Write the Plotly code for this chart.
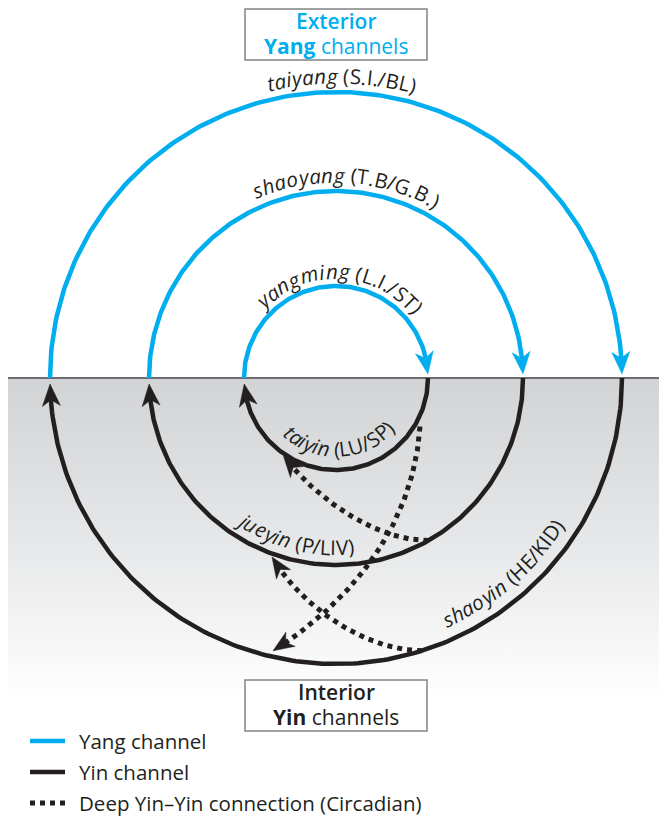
import numpy as np
import plotly.graph_objects as go

W, H = 667, 818
PAGE_MARGIN = 8            # default body margin of the html page
CX, CY = 336, 378          # centre of the ring system, on the exterior/interior horizon

BLUE = "#00aeef"
INK = "#231f20"
RULE = "#6d6e71"
FONT = "Open Sans"
FS = 20.5

# ---- data -------------------------------------------------------------
ring_radii = [286, 187, 92]                       # outer, middle, inner
yang_names = ["taiyang", "shaoyang", "yangming"]
yang_codes = ["(S.I./BL)", "(T.B/G.B.)", "(L.I./ST)"]
yin_names = ["shaoyin", "jueyin", "taiyin"]
yin_codes = ["(HE/KID)", "(P/LIV)", "(LU/SP)"]
yang_label_deg = [271.1, 273, 272.5]
yin_label_deg = [49.5, 104, 87]
yang_label_gap = [8.5, 8.5, 7]
yin_label_gap = [13, 10, 13]

# deep yin-yin connections (ring index, angle in degrees, radial offset)
conn_from_ring = [2, 1, 0]
conn_from_deg = [30, 60.4, 72.5]
conn_from_off = [5, 0, 0]
conn_to_ring = [0, 2, 1]
conn_to_deg = [103, 124, 109.7]
conn_to_off = [-6, 2, 3]
conn_start_handle = [(-6, 95), (-55, 0), (-60, 0)]
conn_end_handle = [(82, -51), (30, 40), (25, 45)]

legend_labels = ["Yang channel", "Yin channel", "Deep Yin\u2013Yin connection (Circadian)"]
legend_colors = [BLUE, INK, INK]
legend_dash = ["solid", "solid", "5px,5px"]

box_lines_top = ["Exterior", "<b>Yang</b> channels"]
box_lines_bottom = ["Interior", "<b>Yin</b> channels"]

# approximate advance widths (em) for label layout
CW = dict(a=.556, b=.613, c=.48, d=.613, e=.561, f=.336, g=.544, h=.613, i=.258, j=.258,
          k=.523, l=.258, m=.93, n=.613, o=.602, p=.613, q=.613, r=.408, s=.477, t=.353,
          u=.613, v=.5, w=.778, x=.519, y=.5, z=.465,
          A=.633, B=.647, C=.631, D=.729, E=.556, G=.728, H=.738, I=.279, K=.614, L=.519,
          P=.602, S=.549, T=.553, U=.728, V=.595)
CW.update({" ": .26, "(": .296, ")": .296, ".": .267, "/": .372})

fig = go.Figure()
annotations = []


def polar(r, deg):
    t = np.radians(deg)
    return CX + r * np.cos(t), CY + r * np.sin(t)


def arrowhead(tip, src, color, L=22, w=18):
    tx, ty = tip
    d = np.array([tx - src[0], ty - src[1]], float)
    d /= np.hypot(*d)
    n = np.array([-d[1], d[0]])
    b = np.array([tx, ty]) - L * d
    pts = [np.array([tx, ty]), b + n * w / 2, np.array([tx, ty]) - 0.72 * L * d, b - n * w / 2,
           np.array([tx, ty])]
    fig.add_trace(go.Scatter(x=[p[0] for p in pts], y=[p[1] for p in pts], mode="lines",
                             fill="toself", fillcolor=color, line=dict(color=color, width=0.5),
                             hoverinfo="skip", showlegend=False))


# interior shading
fig.add_trace(go.Scatter(x=[8, W, W, 8, 8], y=[CY, CY, 700, 700, CY], mode="lines",
                         fill="toself", line=dict(width=0),
                         fillgradient=dict(type="vertical",
                                           colorscale=[[0, "#ffffff"], [0.45, "#e8e9ea"],
                                                       [1, "#d1d3d4"]]),
                         hoverinfo="skip", showlegend=False))
# horizon
fig.add_trace(go.Scatter(x=[8, W], y=[CY, CY], mode="lines", line=dict(color=RULE, width=2),
                         hoverinfo="skip", showlegend=False))

L_ARC = 22
for r in ring_radii:
    # yang arc (over the top, left -> right)
    tip = 360 - np.degrees(np.arcsin(4 / r))
    end = tip - np.degrees(0.7 * L_ARC / r)
    th = np.linspace(180, end, 200)
    x, y = polar(r, th)
    fig.add_trace(go.Scatter(x=x, y=y, mode="lines", line=dict(color=BLUE, width=4.5),
                             hoverinfo="skip", showlegend=False))
    arrowhead(polar(r, tip), polar(r, tip - np.degrees(L_ARC / r)), BLUE)
    # yin arc (underneath, right -> left)
    tip = 180 - np.degrees(np.arcsin(6 / r))
    end = tip - np.degrees(0.7 * L_ARC / r)
    th = np.linspace(0, end, 200)
    x, y = polar(r, th)
    fig.add_trace(go.Scatter(x=x, y=y, mode="lines", line=dict(color=INK, width=4.5),
                             hoverinfo="skip", showlegend=False))
    arrowhead(polar(r, tip), polar(r, tip - np.degrees(L_ARC / r)), INK)

# deep yin-yin dotted connections
for k in range(3):
    p0 = np.array(polar(ring_radii[conn_from_ring[k]] + conn_from_off[k], conn_from_deg[k]))
    p3 = np.array(polar(ring_radii[conn_to_ring[k]] + conn_to_off[k], conn_to_deg[k]))
    p1 = p0 + np.array(conn_start_handle[k])
    p2 = p3 + np.array(conn_end_handle[k])
    t = np.linspace(0, 1, 400)[:, None]
    c = (1 - t) ** 3 * p0 + 3 * (1 - t) ** 2 * t * p1 + 3 * (1 - t) * t ** 2 * p2 + t ** 3 * p3
    dist = np.hypot(*(c - p3).T)
    keep = dist > 0.7 * 21
    src = c[np.argmin(np.abs(dist - 21))]
    fig.add_trace(go.Scatter(x=c[keep, 0], y=c[keep, 1], mode="lines",
                             line=dict(color=INK, width=5, dash="5px,5px"),
                             hoverinfo="skip", showlegend=False))
    arrowhead(tuple(p3), src, INK, L=21, w=17)


def curved_label(name, code, r, deg_c, gap, outside):
    chars = [(ch, True) for ch in name] + [(" ", False)] + [(ch, False) for ch in code]
    widths = [CW.get(ch, .55) * FS for ch, _ in chars]
    total = sum(widths)
    rb = r + gap if outside else r - gap
    rc = rb + 0.39 * FS if outside else rb - 0.39 * FS
    sign = 1 if outside else -1
    pos = -total / 2
    for (ch, ital), w in zip(chars, widths):
        s = pos + w / 2
        pos += w
        if ch == " ":
            continue
        th = deg_c + sign * np.degrees(s / rb)
        x, y = polar(rc, th)
        rot = th - 270 if outside else th - 90
        annotations.append(dict(x=x, y=y, xref="x", yref="y", showarrow=False,
                                text=f"<i>{ch}</i>" if ital else ch, textangle=rot,
                                xanchor="center", yanchor="middle",
                                font=dict(family=FONT, size=FS, color=INK)))


for i, r in enumerate(ring_radii):
    curved_label(yang_names[i], yang_codes[i], r, yang_label_deg[i], yang_label_gap[i], True)
    curved_label(yin_names[i], yin_codes[i], r, yin_label_deg[i], yin_label_gap[i], False)

# legend (drawn by hand)
legend_y = [741, 772, 803]
for lab, col, dash, ly in zip(legend_labels, legend_colors, legend_dash, legend_y):
    fig.add_trace(go.Scatter(x=[30, 65], y=[ly, ly], mode="lines",
                             line=dict(color=col, width=5 if dash != "solid" else 4.5, dash=dash),
                             hoverinfo="skip", showlegend=False))
    annotations.append(dict(x=77, y=ly, xref="x", yref="y", showarrow=False, text=lab,
                            xanchor="left", yanchor="middle",
                            font=dict(family=FONT, size=20.5, color=INK)))

# title boxes
shapes = []
for (y0, y1), lines, col in [((9, 60), box_lines_top, BLUE), ((680, 731), box_lines_bottom, INK)]:
    shapes.append(dict(type="rect", xref="x", yref="y", x0=245, x1=427, y0=y0, y1=y1,
                       fillcolor="white", line=dict(color="#808285", width=1.5), layer="above"))
    annotations.append(dict(x=336, y=y0 + 11.5, xref="x", yref="y", showarrow=False,
                            text=lines[0], xanchor="center", yanchor="middle",
                            font=dict(family=FONT, size=21, color=col, weight=600)))
    annotations.append(dict(x=336, y=y0 + 36.5, xref="x", yref="y", showarrow=False,
                            text=lines[1], xanchor="center", yanchor="middle",
                            font=dict(family=FONT, size=21, color=col)))

# the page adds an 8px body margin, so the plot starts at (8, 8) in window pixels
fig.update_layout(
    width=W - PAGE_MARGIN, height=H - PAGE_MARGIN, margin=dict(l=0, r=0, t=0, b=0),
    paper_bgcolor="white", plot_bgcolor="white", showlegend=False,
    xaxis=dict(range=[PAGE_MARGIN, W], visible=False, fixedrange=True),
    yaxis=dict(range=[H, PAGE_MARGIN], visible=False, fixedrange=True),
    shapes=shapes, annotations=annotations,
)
fig.write_html("out.html")
